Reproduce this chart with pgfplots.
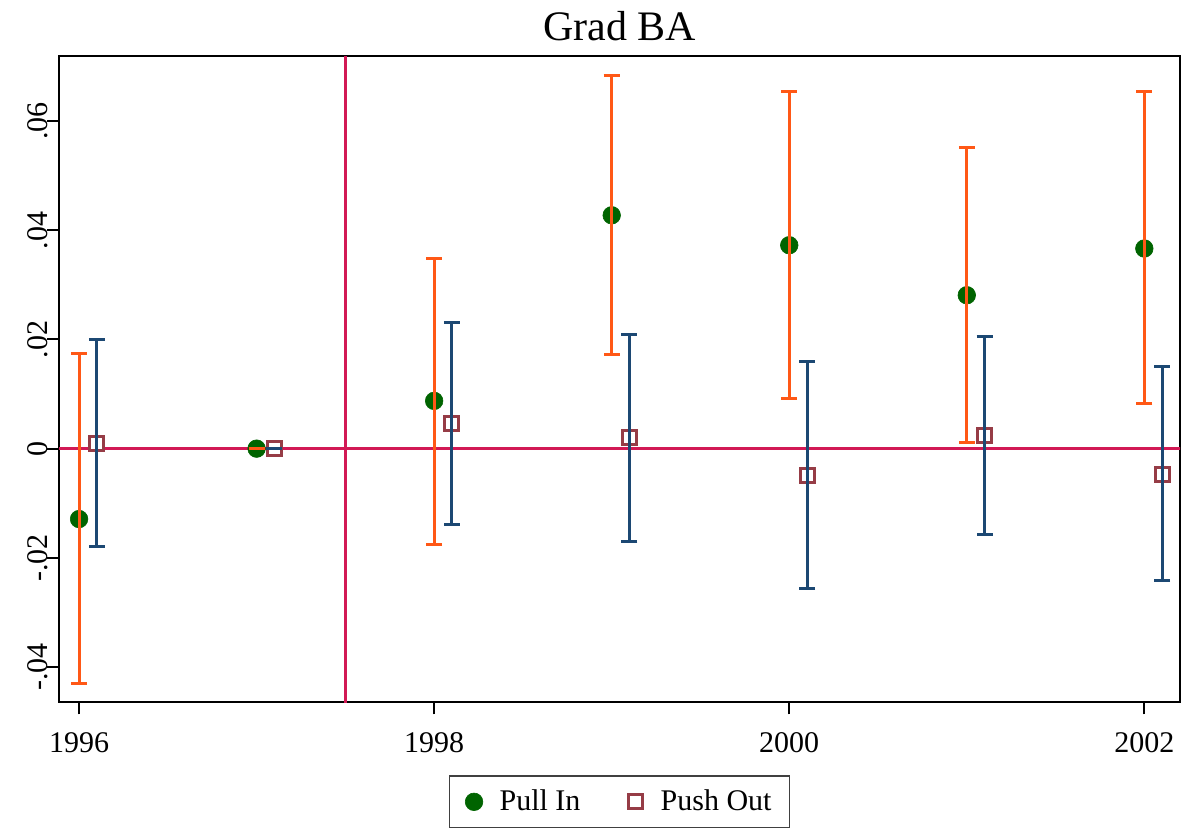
\documentclass[border=0pt]{standalone}
\usepackage{fontspec}
\setmainfont{Liberation Serif}
\usepackage{pgfplots}
\pgfplotsset{compat=1.18}

\definecolor{ciorange}{RGB}{255,88,22}
\definecolor{ciblue}{RGB}{28,72,115}
\definecolor{dkgreen}{RGB}{0,100,0}
\definecolor{sqred}{RGB}{150,60,70}
\definecolor{refline}{RGB}{210,25,85}

\begin{document}
\begin{tikzpicture}
\begin{axis}[
    at={(0,0)}, anchor=south west,
    scale only axis,
    width=560.5pt, height=323pt,
    xmin=1995.887, xmax=2002.201,
    ymin=-0.04648, ymax=0.07189,
    clip marker paths=true,
    axis line style={line width=1pt},
    tick align=outside,
    major tick length=6pt,
    tick style={line width=1pt, black},
    xtick={1996,1998,2000,2002},
    xticklabels={1996,1998,2000,2002},
    ytick={-0.04,-0.02,0,0.02,0.04,0.06},
    yticklabels={-.04,-.02,0,.02,.04,.06},
    scaled y ticks=false,
    xtick pos=bottom, ytick pos=left,
    ticklabel style={font=\fontsize{15}{15}\selectfont},
    xticklabel style={anchor=base, yshift=-19pt},
    yticklabel style={anchor=base, rotate=90},
    /pgf/number format/assume math mode=true,
    title={Grad BA},
    every axis title/.style={font=\fontsize{21}{21}\selectfont, at={(0.5,1)}, anchor=base, yshift=8pt},
    legend columns=2,
    legend style={at={(0.5,-0.113)}, anchor=north, draw=black!75, line width=0.6pt,
        font=\fontsize{15}{15}\selectfont, inner xsep=7pt, inner ysep=5pt,
        /tikz/every even column/.append style={column sep=20pt}},
    legend image code/.code={\draw[#1] plot coordinates {(5pt,0pt)}; \path (0pt,0pt) (15.5pt,0pt);},
]
% reference lines
\addplot[forget plot, refline, line width=1.2pt] coordinates {(1995,0) (2003,0)};
\addplot[forget plot, refline, line width=1.2pt] coordinates {(1997.5,-0.1) (1997.5,0.1)};

% point estimates
\addplot[only marks, mark=*, mark size=4.4pt, color=dkgreen, mark options={line width=0.3pt}]
    coordinates {(1996,-0.0129) (1997,0) (1998,0.00875) (1999,0.04276) (2000,0.03727) (2001,0.02811) (2002,0.03667)};
\addlegendentry{Pull In}
\addplot[only marks, mark=square*, mark size=3.5pt, mark options={draw=sqred, fill=white, line width=1.5pt}]
    coordinates {(1996.1,0.00095) (1997.1,0) (1998.1,0.00461) (1999.1,0.00205) (2000.1,-0.00485) (2001.1,0.00241) (2002.1,-0.00467)};
\addlegendentry{Push Out}

% confidence intervals: (x,y) with upper and lower distances
\addplot[forget plot, draw=none, mark=none,
    error bars/.cd, y dir=both, y explicit, error mark=|,
    error bar style={line width=1.5pt, draw=ciorange},
    error mark options={line width=1.5pt, draw=ciorange, mark size=4pt}]
    coordinates {
    (1996,-0.0129) += (0,0.03033) -= (0,0.0301)
    (1997,0) += (0,0) -= (0,0)
    (1998,0.00875) += (0,0.02609) -= (0,0.02624)
    (1999,0.04276) += (0,0.02564) -= (0,0.02545)
    (2000,0.03727) += (0,0.02808) -= (0,0.02808)
    (2001,0.02811) += (0,0.02705) -= (0,0.02692)
    (2002,0.03667) += (0,0.02868) -= (0,0.02847)
    };
\addplot[forget plot, draw=none, mark=none,
    error bars/.cd, y dir=both, y explicit, error mark=|,
    error bar style={line width=1.5pt, draw=ciblue},
    error mark options={line width=1.5pt, draw=ciblue, mark size=4pt}]
    coordinates {
    (1996.1,0.00095) += (0,0.01905) -= (0,0.01893)
    (1997.1,0) += (0,0) -= (0,0)
    (1998.1,0.00461) += (0,0.01843) -= (0,0.01856)
    (1999.1,0.00205) += (0,0.01892) -= (0,0.01899)
    (2000.1,-0.00485) += (0,0.02075) -= (0,0.0207)
    (2001.1,0.00241) += (0,0.01807) -= (0,0.01813)
    (2002.1,-0.00467) += (0,0.01978) -= (0,0.01954)
    };
\end{axis}
\pgfresetboundingbox
\path (-29.5pt,-64.85pt) rectangle (561pt,351.15pt);
\end{tikzpicture}
\end{document}
